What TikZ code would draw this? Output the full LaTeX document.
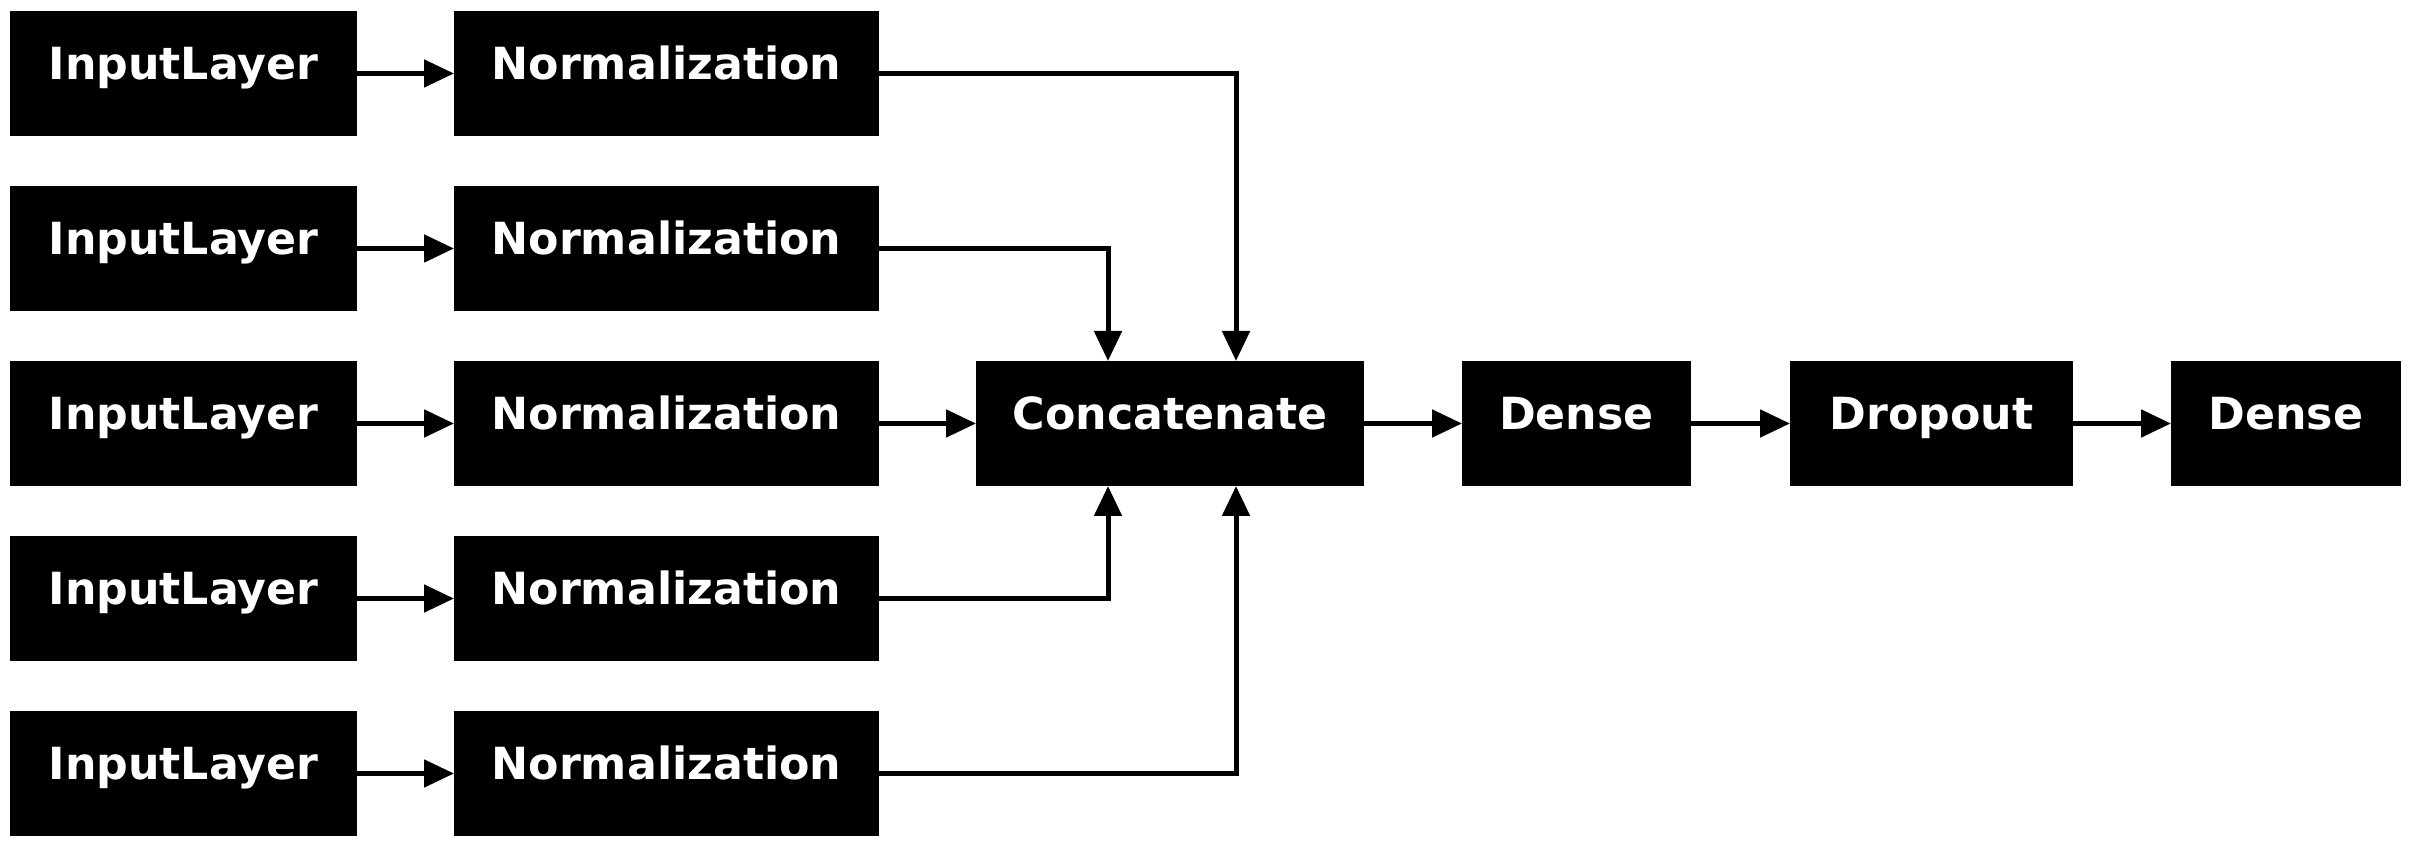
\documentclass[tikz,border=0pt]{standalone}
\usepackage{fontspec}
\setmainfont{DejaVu Sans}
\usetikzlibrary{positioning,calc,arrows.meta}

\begin{document}
\begin{tikzpicture}[node distance=1.75cm, auto,
    layer/.style={rectangle, fill=black, text=white, font=\fontsize{12.6}{14}\selectfont\bfseries,
        minimum height=1.25cm, inner sep=0pt, outer sep=0pt, text height=0.75em, text depth=0.42em},
    link/.style={-{Triangle[length=0.3cm,width=0.27cm]}, line width=0.05cm}]
    \useasboundingbox (0,0) rectangle (24.11,-8.47);
    \node (in1) [layer, minimum width=3.47cm] at (1.835,-0.735) {InputLayer};
    \node (in2) [layer, minimum width=3.47cm, below of=in1] {InputLayer};
    \node (in3) [layer, minimum width=3.47cm, below of=in2] {InputLayer};
    \node (in4) [layer, minimum width=3.47cm, below of=in3] {InputLayer};
    \node (in5) [layer, minimum width=3.47cm, below of=in4] {InputLayer};

    \node (norm1) [layer, minimum width=4.25cm, right=0.97cm of in1] {Normalization};
    \node (norm2) [layer, minimum width=4.25cm, right=0.97cm of in2] {Normalization};
    \node (norm3) [layer, minimum width=4.25cm, right=0.97cm of in3] {Normalization};
    \node (norm4) [layer, minimum width=4.25cm, right=0.97cm of in4] {Normalization};
    \node (norm5) [layer, minimum width=4.25cm, right=0.97cm of in5] {Normalization};

    \node (concat) [layer, minimum width=3.88cm, right=0.97cm of norm3] {Concatenate};
    \node (dense1) [layer, minimum width=2.29cm, right=0.98cm of concat] {Dense};
    \node (drop) [layer, minimum width=2.83cm, right=0.99cm of dense1] {Dropout};
    \node (dense2) [layer, minimum width=2.30cm, right=0.98cm of drop] {Dense};

    \draw[link] (in1) -- (norm1);
    \draw[link] (in2) -- (norm2);
    \draw[link] (in3) -- (norm3);
    \draw[link] (in4) -- (norm4);
    \draw[link] (in5) -- (norm5);

    \draw[link] (norm1.east) -| ($(concat.north west)+(2.60,0)$);
    \draw[link] (norm2.east) -| ($(concat.north west)+(1.32,0)$);
    \draw[link] (norm3) -- (concat);
    \draw[link] (norm4.east) -| ($(concat.south west)+(1.32,0)$);
    \draw[link] (norm5.east) -| ($(concat.south west)+(2.60,0)$);

    \draw[link] (concat) -- (dense1);
    \draw[link] (dense1) -- (drop);
    \draw[link] (drop) -- (dense2);
\end{tikzpicture}
\end{document}
